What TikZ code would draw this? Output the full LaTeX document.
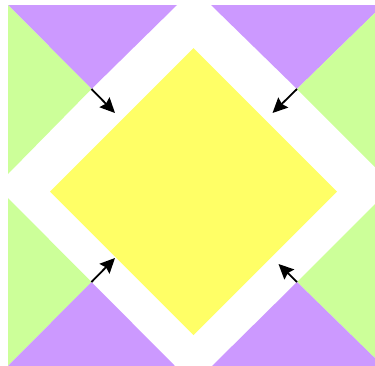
\documentclass[tikz,border=0pt]{standalone}
\usetikzlibrary{arrows.meta}
\definecolor{qpurple}{HTML}{CC99FF}
\definecolor{qgreen}{HTML}{CCFF99}
\definecolor{qyellow}{HTML}{FFFF66}
\tikzset{
  purplepatch/.style={fill=qpurple,draw=none},
  greenpatch/.style={fill=qgreen,draw=none},
  yellowpatch/.style={fill=qyellow,draw=none},
  pointer/.style={line width=1.8pt,-{Stealth[length=15pt,width=14pt,inset=2pt]}}
}
\begin{document}
\begin{tikzpicture}[x=1pt,y=-1pt]
\useasboundingbox (0,0) rectangle (375,365);
\clip (0,0) rectangle (375,365);
% corner apexes
\coordinate (tl) at (91.5,89);
\coordinate (tr) at (297,89);
\coordinate (bl) at (91.5,282);
\coordinate (br) at (297,282);
% top-left block
\fill[purplepatch] (8,5) -- (177,5) -- (tl) -- cycle;
\fill[greenpatch] (8,5) -- (8,174) -- (tl) -- cycle;
% top-right block
\fill[purplepatch] (211,5) -- (383,5) -- (tr) -- cycle;
\fill[greenpatch] (383,5) -- (383,175) -- (tr) -- cycle;
% bottom-left block
\fill[greenpatch] (8,198) -- (8,366) -- (bl) -- cycle;
\fill[purplepatch] (8,366) -- (175,366) -- (bl) -- cycle;
% bottom-right block
\fill[greenpatch] (383,196) -- (383,366) -- (br) -- cycle;
\fill[purplepatch] (212,366) -- (383,366) -- (br) -- cycle;
% central diamond
\fill[yellowpatch] (193.5,48) -- (337,191.5) -- (193.5,335) -- (50,191.5) -- cycle;
% arrows
\coordinate (tlend) at (115,113);
\coordinate (trend) at (272.5,113);
\coordinate (blend) at (115,258);
\coordinate (brend) at (278.5,264);
\draw[pointer] (tl) -- (tlend);
\draw[pointer] (tr) -- (trend);
\draw[pointer] (bl) -- (blend);
\draw[pointer] (br) -- (brend);
\end{tikzpicture}
\end{document}
